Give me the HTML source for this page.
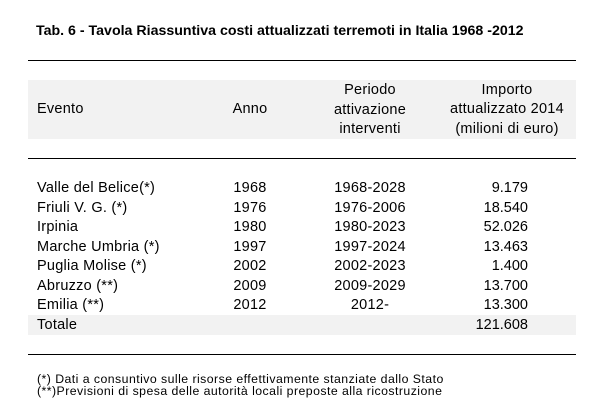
<!DOCTYPE html>
<html>
<head>
<meta charset="utf-8">
<style>
  html,body{margin:0;padding:0;background:#fff;}
  body{width:613px;height:410px;position:relative;overflow:hidden;font-family:"Liberation Sans",Arial,sans-serif;color:#000;}
  .t{position:absolute;white-space:nowrap;font-size:14.5px;line-height:19.5px;letter-spacing:0.25px;}
  .c{text-align:center;}
  .r{text-align:right;}
  .line{position:absolute;left:28px;width:548px;height:1px;background:#000;}
  .band{position:absolute;left:28px;width:548px;background:#f2f2f2;}
  .title{position:absolute;left:36px;top:21px;font-size:14.2px;line-height:20px;font-weight:bold;white-space:nowrap;color:#000;}
  .fn{position:absolute;left:37px;font-size:12.3px;line-height:12.7px;letter-spacing:0.45px;white-space:nowrap;}
</style>
</head>
<body>
<div class="title">Tab. 6 - Tavola Riassuntiva costi attualizzati terremoti in Italia 1968 -2012</div>

<div class="line" style="top:60px;"></div>
<div class="band" style="top:80px;height:59px;"></div>
<div class="line" style="top:158px;"></div>

<!-- header -->
<div class="t" style="left:37px;top:100.2px;">Evento</div>
<div class="t c" style="left:210px;width:80px;top:100.2px;">Anno</div>
<div class="t c" style="left:300px;width:140px;top:81.2px;">Periodo<br>attivazione<br>interventi</div>
<div class="t c" style="left:437px;width:140px;top:80.9px;">Importo<br>attualizzato 2014<br>(milioni di euro)</div>

<!-- Totale band -->
<div class="band" style="top:315px;height:20px;"></div>

<!-- rows -->
<div class="t" style="left:37px;top:179.2px;">Valle del Belice(*)<br>Friuli V. G. (*)<br>Irpinia<br>Marche Umbria (*)<br>Puglia Molise (*)<br>Abruzzo (**)<br>Emilia (**)<br>Totale</div>
<div class="t c" style="left:210px;width:80px;top:179.2px;">1968<br>1976<br>1980<br>1997<br>2002<br>2009<br>2012</div>
<div class="t c" style="left:300px;width:140px;top:179.2px;">1968-2028<br>1976-2006<br>1980-2023<br>1997-2024<br>2002-2023<br>2009-2029<br>2012-</div>
<div class="t r" style="left:400px;width:128px;top:179.2px;letter-spacing:0px;">9.179<br>18.540<br>52.026<br>13.463<br>1.400<br>13.700<br>13.300<br>121.608</div>

<div class="line" style="top:354px;"></div>

<div class="fn" style="top:372.6px;">(*) Dati a consuntivo sulle risorse effettivamente stanziate dallo Stato</div>
<div class="fn" style="top:385.3px;">(**)Previsioni di spesa delle autorità locali preposte alla ricostruzione</div>
</body>
</html>
